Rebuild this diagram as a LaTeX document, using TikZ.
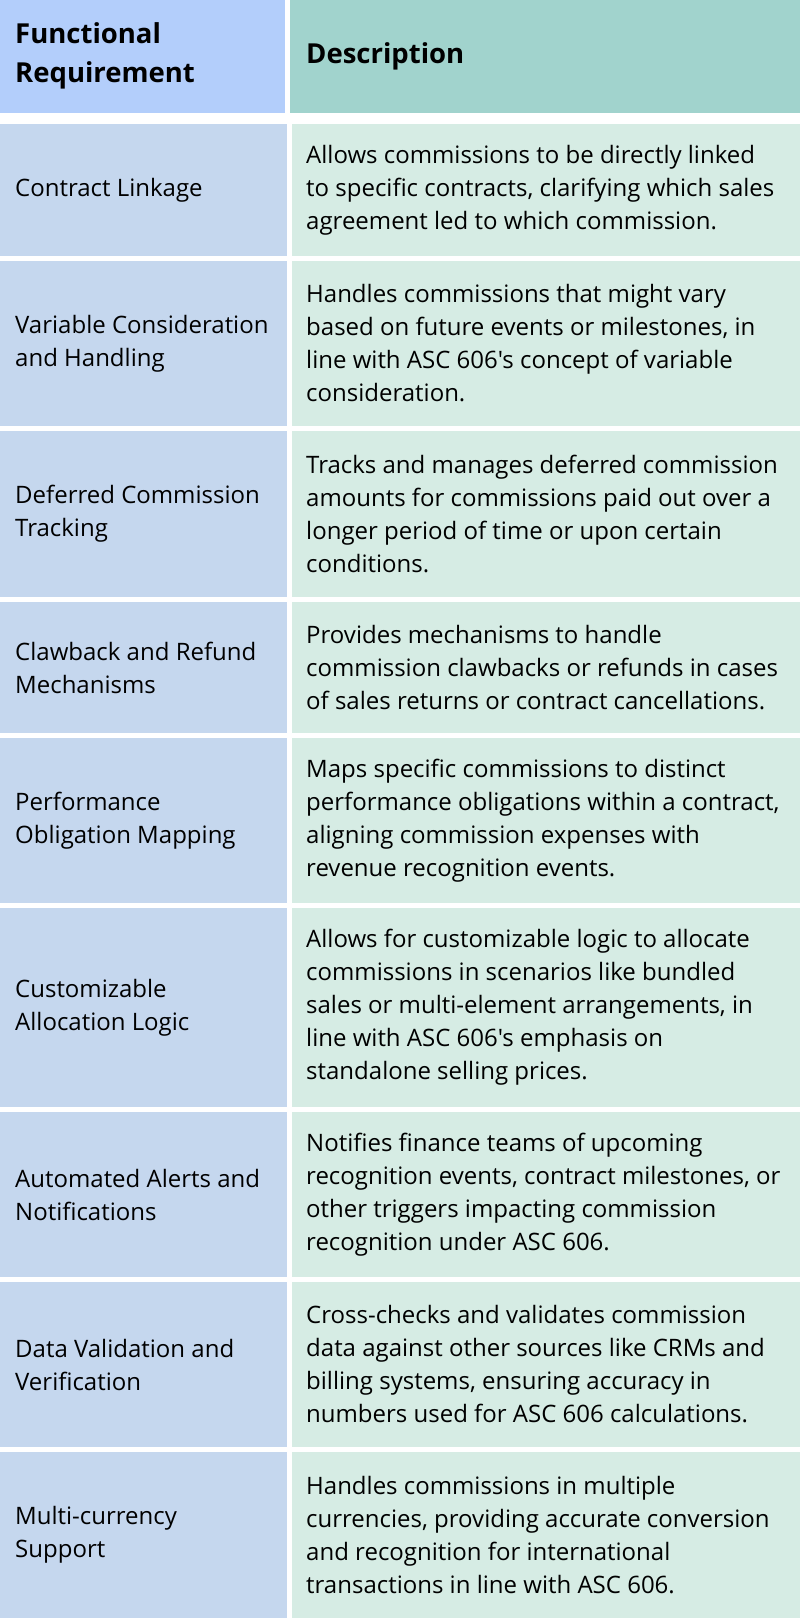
\documentclass[tikz,border=0pt]{standalone}
\usepackage{fontspec}
\defaultfontfeatures[\rmfamily]{}
\setmainfont{Open Sans}
\begin{document}
\begin{tikzpicture}[x=1pt,y=-1pt,
 hl/.style={fill=hlc,draw=none},hr/.style={fill=hrc,draw=none},
 bl/.style={fill=blc,draw=none},br/.style={fill=brc,draw=none},
 txt/.style={anchor=west,align=left,font=\fontsize{24}{33}\selectfont,inner sep=0pt},
 htxt/.style={anchor=west,align=left,font=\fontsize{27.5}{39}\selectfont\bfseries,inner sep=0pt}]
\definecolor{hlc}{HTML}{B3CEFB}\definecolor{hrc}{HTML}{A1D3CD}
\definecolor{blc}{HTML}{C5D7EE}\definecolor{brc}{HTML}{D6ECE4}
\useasboundingbox (0,0) rectangle (800,1618);
\fill[white] (0,0) rectangle (800,1618);
\fill[hl] (0,0) rectangle (285,113);
\fill[hr] (290,0) rectangle (800,113);
\node[htxt] (h1) at (15,56) {Functional\\Requirement};
\node[htxt] (h2) at (306,56) {Description};
\foreach \a/\b [count=\i] in {124/256,261/426,431/597,602/733,738/903,908/1107,1112/1277,1282/1447,1452/1618}{
 \fill[bl] (0,\a) rectangle (287,\b);
 \fill[br] (292,\a) rectangle (800,\b);
 \coordinate (m\i) at (0,{(\a+\b)/2});
}
\foreach \i/\l/\r in {
1/{Contract Linkage}/{Allows commissions to be directly linked\\to specific contracts, clarifying which sales\\agreement led to which commission.},
2/{Variable Consideration\\and Handling}/{Handles commissions that might vary\\based on future events or milestones, in\\line with ASC 606's concept of variable\\consideration.},
3/{Deferred Commission\\Tracking}/{Tracks and manages deferred commission\\amounts for commissions paid out over a\\longer period of time or upon certain\\conditions.},
4/{Clawback and Refund\\Mechanisms}/{Provides mechanisms to handle\\commission clawbacks or refunds in cases\\of sales returns or contract cancellations.},
5/{Performance\\Obligation Mapping}/{Maps specific commissions to distinct\\performance obligations within a contract,\\aligning commission expenses with\\revenue recognition events.},
6/{Customizable\\Allocation Logic}/{Allows for customizable logic to allocate\\commissions in scenarios like bundled\\sales or multi-element arrangements, in\\line with ASC 606's emphasis on\\standalone selling prices.},
7/{Automated Alerts and\\Notifications}/{Notifies finance teams of upcoming\\recognition events, contract milestones, or\\other triggers impacting commission\\recognition under ASC 606.},
8/{Data Validation and\\Verification}/{Cross-checks and validates commission\\data against other sources like CRMs and\\billing systems, ensuring accuracy in\\numbers used for ASC 606 calculations.},
9/{Multi-currency\\Support}/{Handles commissions in multiple\\currencies, providing accurate conversion\\and recognition for international\\transactions in line with ASC 606.}}{
 \node[txt] (l\i) at ([xshift=15pt]m\i) {\l};
 \node[txt] (r\i) at ([xshift=306pt]m\i) {\r};
}
\end{tikzpicture}
\end{document}
